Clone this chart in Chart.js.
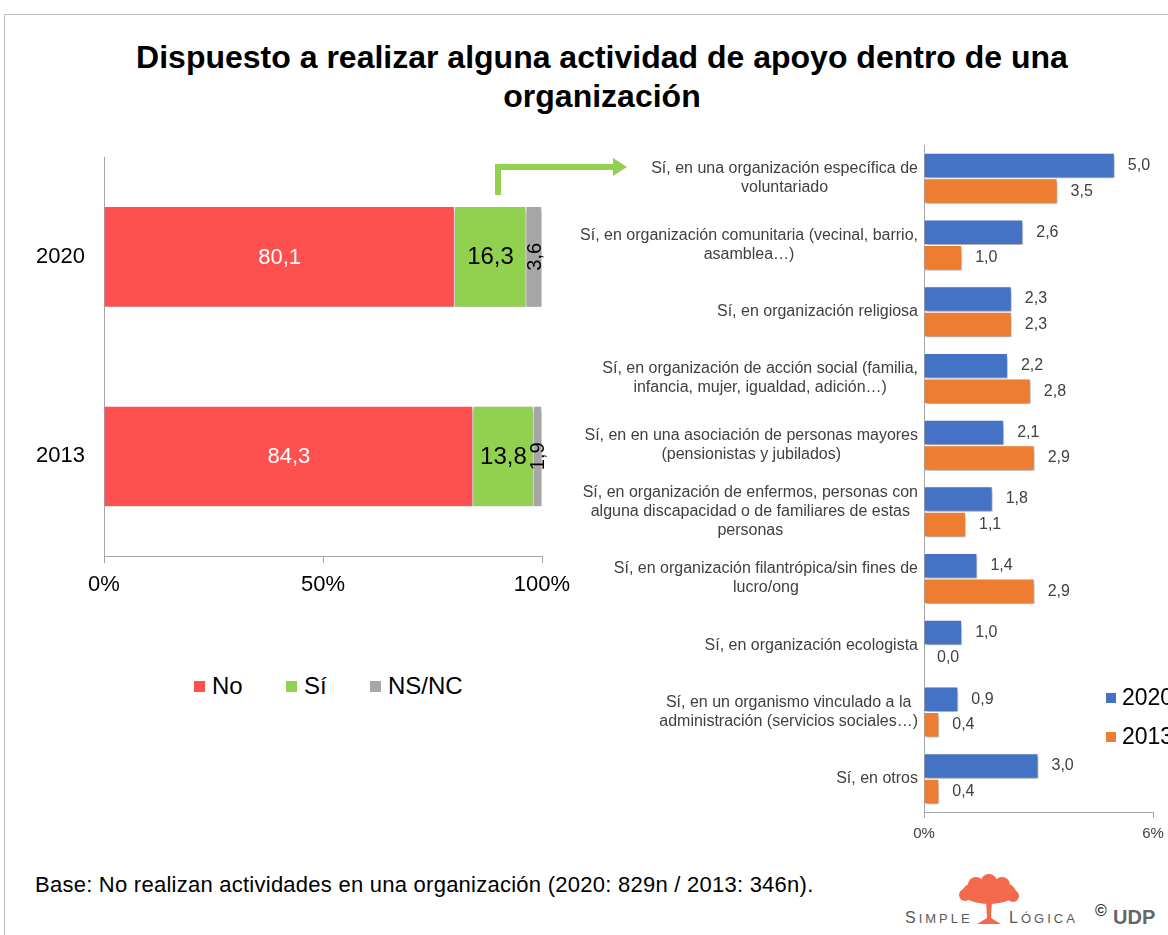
<!DOCTYPE html>
<html>
<head>
<meta charset="utf-8">
<script src="https://cdn.jsdelivr.net/npm/chart.js@4.4.1/dist/chart.umd.min.js"></script>
<style>
  html, body { margin: 0; padding: 0; background: #fff; }
  body { width: 1168px; height: 935px; position: relative; overflow: hidden; font-family: 'Liberation Sans', Arial, sans-serif; }
  .frame { position: absolute; left: 4px; top: 14px; width: 1200px; height: 1000px; border-top: 1px solid #bfbfbf; border-left: 1px solid #bfbfbf; }
  .title { position: absolute; left: 36px; width: 1132px; top: 38px; text-align: center; font-weight: bold; font-size: 32px; line-height: 39px; color: #000; }
  canvas { position: absolute; }
  #left { left: 0; top: 140px; }
  #right { left: 560px; top: 140px; }
  .legend { position: absolute; font-size: 24px; color: #000; line-height: 28px; white-space: nowrap; }
  .legend span.sq { display: inline-block; width: 11px; height: 11px; vertical-align: 2px; margin-right: 7px; }
  .note { position: absolute; left: 35px; top: 872px; font-size: 22px; letter-spacing: 0.25px; color: #000; }
  .logo { position: absolute; left: 905px; top: 872px; width: 270px; height: 60px; }
  .logo .t { position: absolute; top: 37px; font-size: 16px; letter-spacing: 3px; color: #595959; }
  .logo .udp { position: absolute; top: 34px; left: 208px; font-size: 20px; font-weight: bold; color: #666; }
  .logo .c { position: absolute; top: 30px; left: 190px; font-size: 16px; font-weight: bold; color: #333; }
</style>
</head>
<body>
<div class="frame"></div>
<div class="title">Dispuesto a realizar alguna actividad de apoyo dentro de una<br>organización</div>

<canvas id="left" width="600" height="470"></canvas>
<canvas id="right" width="608" height="720"></canvas>

<svg style="position:absolute;left:0;top:0" width="700" height="220">
  <polyline points="498,195 498,167 615,167" fill="none" stroke="#92d050" stroke-width="6"/>
  <polygon points="613,158 627,167 613,176" fill="#92d050"/>
</svg>

<div class="legend" style="left:194px;top:672px"><span class="sq" style="background:#ff5050"></span>No</div>
<div class="legend" style="left:286px;top:672px"><span class="sq" style="background:#92d050"></span>Sí</div>
<div class="legend" style="left:370px;top:672px"><span class="sq" style="background:#a6a6a6"></span>NS/NC</div>

<div class="legend" style="left:1106px;top:683px;font-size:23px"><span class="sq" style="background:#4472c4;width:10px;height:10px;margin-right:6px"></span>2020</div>
<div class="legend" style="left:1106px;top:722px;font-size:23px"><span class="sq" style="background:#ed7d31;width:10px;height:10px;margin-right:6px"></span>2013</div>

<div class="note">Base: No realizan actividades en una organización (2020: 829n / 2013: 346n).</div>

<div class="logo">
  <span class="t" style="left:0">S<span style="font-size:13px">IMPLE</span></span>
  <svg style="position:absolute;left:52px;top:2px" width="64" height="52">
    <g fill="#f4694b">
      <ellipse cx="32" cy="18" rx="27" ry="12"/>
      <circle cx="19" cy="11" r="8"/><circle cx="32" cy="8" r="8"/><circle cx="45" cy="11" r="8"/>
      <circle cx="8" cy="21" r="6"/><circle cx="56" cy="22" r="6"/>
      <polygon points="29,26 35,26 34,44 44,50 20,50 30,44"/>
    </g>
  </svg>
  <span class="t" style="left:104px">L<span style="font-size:13px">ÓGICA</span></span>
  <span class="c">©</span>
  <span class="udp">UDP</span>
</div>

<script>
// ---- datos (izquierda) ----
const years = ['2020', '2013']
const noVals = [80.1, 84.3]
const siVals = [16.3, 13.8]
const nsncVals = [3.6, 1.9]

// ---- datos (derecha) ----
const orgLabels = [
  ['Sí, en una organización específica de', 'voluntariado'],
  ['Sí, en organización comunitaria (vecinal, barrio,', 'asamblea…)'],
  ['Sí, en organización religiosa'],
  ['Sí, en organización de acción social (familia,', 'infancia, mujer, igualdad, adición…)'],
  ['Sí, en en una asociación de personas mayores', '(pensionistas y jubilados)'],
  ['Sí, en organización de enfermos, personas con', 'alguna discapacidad o de familiares de estas', 'personas'],
  ['Sí, en organización filantrópica/sin fines de', 'lucro/ong'],
  ['Sí, en organización ecologista'],
  ['Sí, en un organismo vinculado a la', 'administración (servicios sociales…)'],
  ['Sí, en otros'],
]
const vals2020 = [5.0, 2.6, 2.3, 2.2, 2.1, 1.8, 1.4, 1.0, 0.9, 3.0]
const vals2013 = [3.5, 1.0, 2.3, 2.8, 2.9, 1.1, 2.9, 0.0, 0.4, 0.4]

const FONT = "'Liberation Sans', Arial, sans-serif"
const fmt = v => v.toFixed(1).replace('.', ',')

// sombra tipo Excel bajo las barras
const shadowPlugin = {
  id: 'barShadow',
  beforeDatasetDraw(chart) {
    const c = chart.ctx
    c.save()
    c.shadowColor = 'rgba(0,0,0,0.35)'
    c.shadowBlur = 4
    c.shadowOffsetX = 1
    c.shadowOffsetY = 3
  },
  afterDatasetDraw(chart) { chart.ctx.restore() }
}

// etiquetas dentro de las barras apiladas
const stackFonts = [22, 24, 20]
const stackLabels = {
  id: 'stackLabels',
  afterDatasetsDraw(chart) {
    const ctx = chart.ctx
    ctx.save()
    ctx.textAlign = 'center'
    ctx.textBaseline = 'middle'
    chart.data.datasets.forEach((ds, di) => {
      ctx.font = stackFonts[di] + 'px ' + FONT
      chart.getDatasetMeta(di).data.forEach((bar, i) => {
        const cx = (bar.x + bar.base) / 2
        ctx.fillStyle = di === 0 ? '#fff' : '#000'
        if (di === 2) {
          ctx.save()
          ctx.translate(cx + 1, bar.y)
          ctx.rotate(-Math.PI / 2)
          ctx.fillText(fmt(ds.data[i]), 0, 0)
          ctx.restore()
        } else {
          ctx.fillText(fmt(ds.data[i]), cx, bar.y + 1)
        }
      })
    })
    ctx.restore()
  }
}

new Chart(document.getElementById('left'), {
  type: 'bar',
  data: {
    labels: years,
    datasets: [
      { label: 'No', data: noVals, backgroundColor: '#ff5050' },
      { label: 'Sí', data: siVals, backgroundColor: '#92d050' },
      { label: 'NS/NC', data: nsncVals, backgroundColor: '#a6a6a6' },
    ]
  },
  options: {
    indexAxis: 'y',
    responsive: false,
    animation: false,
    datasets: { bar: { categoryPercentage: 0.5, barPercentage: 1, borderWidth: { right: 1 }, borderColor: '#fff', borderSkipped: 'start' } },
    layout: { padding: { left: 0, right: 58, top: 17, bottom: 0 } },
    plugins: { legend: { display: false }, tooltip: { enabled: false } },
    scales: {
      x: {
        stacked: true, min: 0, max: 100,
        ticks: { stepSize: 50, callback: v => v + '%', color: '#000', font: { family: FONT, size: 22 }, padding: 9, maxRotation: 0 },
        grid: { drawOnChartArea: false, drawTicks: true, tickLength: 7, color: '#a6a6a6' },
        border: { color: '#a6a6a6' },
        afterFit(s) { s.height = 54; s.paddingLeft = 0; s.paddingRight = 0 }
      },
      y: {
        stacked: true,
        ticks: { color: '#000', font: { family: FONT, size: 22 }, padding: 19 },
        grid: { display: false, drawTicks: false },
        border: { color: '#a6a6a6' },
        afterFit(s) { s.width = 104; s.paddingTop = 0; s.paddingBottom = 0 }
      }
    }
  },
  plugins: [shadowPlugin, stackLabels]
})

// etiquetas de categoría multilínea (centradas entre sí, alineadas a la derecha)
const orgLabelPlugin = {
  id: 'orgLabels',
  afterDraw(chart) {
    const ctx = chart.ctx
    const y = chart.scales.y
    ctx.save()
    ctx.font = '16px ' + FONT
    ctx.fillStyle = '#404040'
    ctx.textAlign = 'center'
    ctx.textBaseline = 'middle'
    orgLabels.forEach((lines, i) => {
      const w = Math.max(...lines.map(l => ctx.measureText(l).width))
      const cx = chart.chartArea.left - 6 - w / 2
      const cy = y.getPixelForValue(i)
      lines.forEach((l, k) => ctx.fillText(l, cx, cy + (k - (lines.length - 1) / 2) * 19))
    })
    ctx.restore()
  }
}

// valores al final de cada barra
const valueLabels = {
  id: 'valueLabels',
  afterDatasetsDraw(chart) {
    const ctx = chart.ctx
    ctx.save()
    ctx.font = '16px ' + FONT
    ctx.fillStyle = '#404040'
    ctx.textAlign = 'left'
    ctx.textBaseline = 'middle'
    chart.data.datasets.forEach((ds, di) => {
      chart.getDatasetMeta(di).data.forEach((bar, i) => {
        ctx.fillText(fmt(ds.data[i]), bar.x + 13, bar.y)
      })
    })
    ctx.restore()
  }
}

new Chart(document.getElementById('right'), {
  type: 'bar',
  data: {
    labels: orgLabels.map(l => l.join(' ')),
    datasets: [
      { label: '2020', data: vals2020, backgroundColor: '#4472c4' },
      { label: '2013', data: vals2013, backgroundColor: '#ed7d31' },
    ]
  },
  options: {
    indexAxis: 'y',
    responsive: false,
    animation: false,
    datasets: { bar: { categoryPercentage: 0.765, barPercentage: 1, borderWidth: 1, borderColor: '#fff', borderSkipped: 'start' } },
    layout: { padding: { left: 0, right: 15, top: 5, bottom: 0 } },
    plugins: { legend: { display: false }, tooltip: { enabled: false } },
    scales: {
      x: {
        min: 0, max: 6,
        ticks: { stepSize: 6, callback: v => v + '%', color: '#404040', font: { family: FONT, size: 15 }, padding: 7, maxRotation: 0 },
        grid: { drawOnChartArea: false, drawTicks: true, tickLength: 6, color: '#a6a6a6' },
        border: { color: '#a6a6a6' },
        afterFit(s) { s.height = 48; s.paddingLeft = 0; s.paddingRight = 0 }
      },
      y: {
        ticks: { display: false },
        grid: { display: false, drawTicks: false },
        border: { color: '#a6a6a6' },
        afterFit(s) { s.width = 364; s.paddingTop = 0; s.paddingBottom = 0 }
      }
    }
  },
  plugins: [shadowPlugin, valueLabels, orgLabelPlugin]
})
</script>
</body>
</html>
